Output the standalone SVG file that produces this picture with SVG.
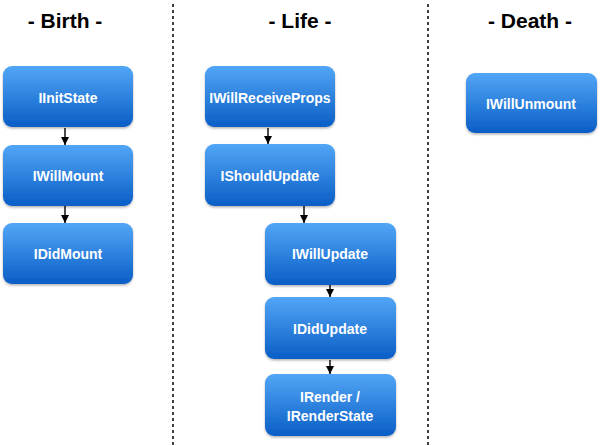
<svg xmlns="http://www.w3.org/2000/svg" width="600" height="445" viewBox="0 0 600 445">
<style>
.hdr{font-family:"Liberation Sans",Arial,sans-serif;font-weight:bold;font-size:21px;fill:#000;text-anchor:middle}
.lbl{font-family:"Liberation Sans",Arial,sans-serif;font-weight:bold;font-size:14px;fill:#fff;text-anchor:middle}
.box{fill:url(#g);filter:url(#sh)}
.div{stroke:#000;stroke-width:1.5;stroke-dasharray:3,3}
.con{stroke:#000;stroke-width:1.4;fill:none;marker-end:url(#ah)}
</style>
<defs>
<linearGradient id="g" x1="0" y1="0" x2="0" y2="1">
<stop offset="0" stop-color="#52a6f6"/>
<stop offset="1" stop-color="#0a5ec6"/>
</linearGradient>
<filter id="sh" x="-10%" y="-10%" width="120%" height="130%">
<feDropShadow dx="0" dy="1.5" stdDeviation="1.2" flood-color="#000" flood-opacity="0.3"/>
</filter>
<marker id="ah" viewBox="0 0 10 10" refX="10" refY="5" markerWidth="8" markerHeight="8" markerUnits="userSpaceOnUse" orient="auto">
<path d="M0,0 L10,5 L0,10 z" fill="#000"/>
</marker>
</defs>
<line class="div" x1="173" y1="4" x2="173" y2="445"/>
<line class="div" x1="428" y1="4" x2="428" y2="445"/>
<text class="hdr" x="65" y="28">- Birth -</text>
<text class="hdr" x="300" y="28">- Life -</text>
<text class="hdr" x="530" y="28">- Death -</text>
<g id="connectors">
<line class="con" x1="65" y1="128" x2="65" y2="145"/>
<line class="con" x1="65" y1="206" x2="65" y2="223"/>
<line class="con" x1="268" y1="128" x2="268" y2="144"/>
<line class="con" x1="304" y1="206" x2="304" y2="223"/>
<line class="con" x1="330" y1="285" x2="330" y2="297"/>
<line class="con" x1="330" y1="360" x2="330" y2="374"/>
</g>
<g id="IInitState"><rect class="box" x="3" y="66" width="130" height="61" rx="9"/><text class="lbl" x="68" y="103">IInitState</text></g>
<g id="IWillMount"><rect class="box" x="3" y="145" width="130" height="61" rx="9"/><text class="lbl" x="68" y="181">IWillMount</text></g>
<g id="IDidMount"><rect class="box" x="3" y="223" width="130" height="61" rx="9"/><text class="lbl" x="68" y="259">IDidMount</text></g>
<g id="IWillReceiveProps"><rect class="box" x="205" y="66" width="130" height="61" rx="9"/><text class="lbl" x="270" y="103">IWillReceiveProps</text></g>
<g id="IShouldUpdate"><rect class="box" x="205" y="144" width="130" height="62" rx="9"/><text class="lbl" x="270" y="181">IShouldUpdate</text></g>
<g id="IWillUpdate"><rect class="box" x="265" y="223" width="131" height="62" rx="9"/><text class="lbl" x="330" y="259">IWillUpdate</text></g>
<g id="IDidUpdate"><rect class="box" x="265" y="297" width="131" height="62" rx="9"/><text class="lbl" x="330" y="334">IDidUpdate</text></g>
<g id="IRender"><rect class="box" x="265" y="374" width="131" height="62" rx="9"/><text class="lbl" x="330" y="402">IRender /</text><text class="lbl" x="330" y="421">IRenderState</text></g>
<g id="IWillUnmount"><rect class="box" x="466" y="73" width="131" height="60" rx="9"/><text class="lbl" x="531" y="109">IWillUnmount</text></g>
</svg>
